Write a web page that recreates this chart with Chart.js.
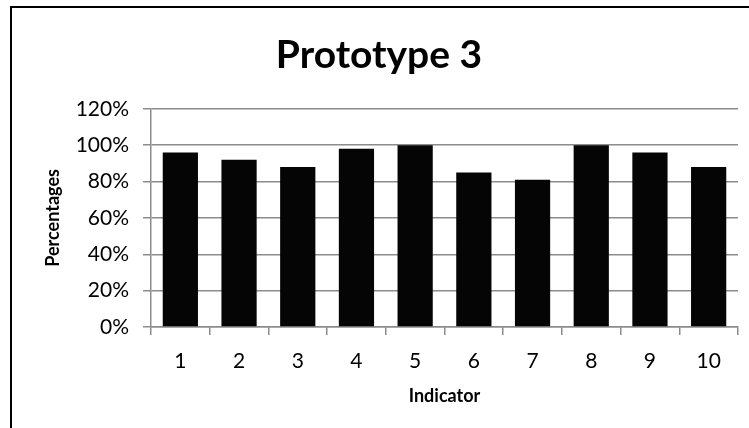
<!DOCTYPE html>
<html>
<head>
<meta charset="utf-8">
<script src="https://cdn.jsdelivr.net/npm/chart.js@4"></script>
<style>
  body { margin: 0; background: #fff; }
  #box {
    position: absolute; left: 10px; top: 6px;
    width: 739px; height: 422px;
    border-left: 2px solid #000; border-top: 2px solid #000;
    box-sizing: border-box;
  }
</style>
</head>
<body>
<div id="box"><canvas id="chart"></canvas></div>
<script>
var categories = ['1', '2', '3', '4', '5', '6', '7', '8', '9', '10'];
var percentages = [96, 92, 88, 98, 100, 85, 81, 100, 96, 88];

var fontFamily = "Lato, 'Open Sans', sans-serif";
var gridColor = '#8c8c8c';

var ctx = document.getElementById('chart').getContext('2d');
var chart = new Chart(ctx, {
    type: 'bar',
    data: {
        labels: categories,
        datasets: [{
            label: 'Percentages',
            data: percentages,
            backgroundColor: '#050505',
            borderColor: '#050505',
            borderWidth: 0,
            categoryPercentage: 1,
            barPercentage: 0.6
        }]
    },
    options: {
        responsive: true,
        maintainAspectRatio: false,
        animation: false,
        layout: { padding: { left: 8, right: 11, top: 12, bottom: 0 } },
        plugins: {
            legend: { display: false },
            tooltip: { enabled: false },
            title: {
                display: true,
                text: 'Prototype 3',
                color: '#000',
                font: { family: fontFamily, size: 39, weight: 'bold' },
                padding: { top: 12, bottom: 30 }
            }
        },
        scales: {
            x: {
                afterFit: function (scale) { scale.height = 101; },
                grid: {
                    offset: true,
                    drawOnChartArea: false,
                    color: gridColor,
                    tickLength: 8,
                    lineWidth: 1.5
                },
                border: { color: gridColor, width: 1.5 },
                ticks: {
                    color: '#000',
                    font: { family: fontFamily, size: 21 },
                    padding: 14
                },
                title: {
                    display: true,
                    text: 'Indicator',
                    color: '#000',
                    font: { family: fontFamily, size: 18, weight: 'bold' },
                    padding: { top: 10, bottom: 21 }
                }
            },
            y: {
                min: 0,
                max: 120,
                afterFit: function (scale) { scale.width = 131; },
                grid: {
                    color: gridColor,
                    tickLength: 8,
                    lineWidth: 1.5
                },
                border: { color: gridColor, width: 1.5 },
                ticks: {
                    stepSize: 20,
                    color: '#000',
                    font: { family: fontFamily, size: 21 },
                    padding: 14,
                    callback: function (v) { return v + '%'; }
                },
                title: {
                    display: true,
                    text: 'Percentages',
                    color: '#000',
                    font: { family: fontFamily, size: 18, weight: 'bold' },
                    padding: { top: 22, bottom: 0 }
                }
            }
        }
    }
});
</script>
</body>
</html>
